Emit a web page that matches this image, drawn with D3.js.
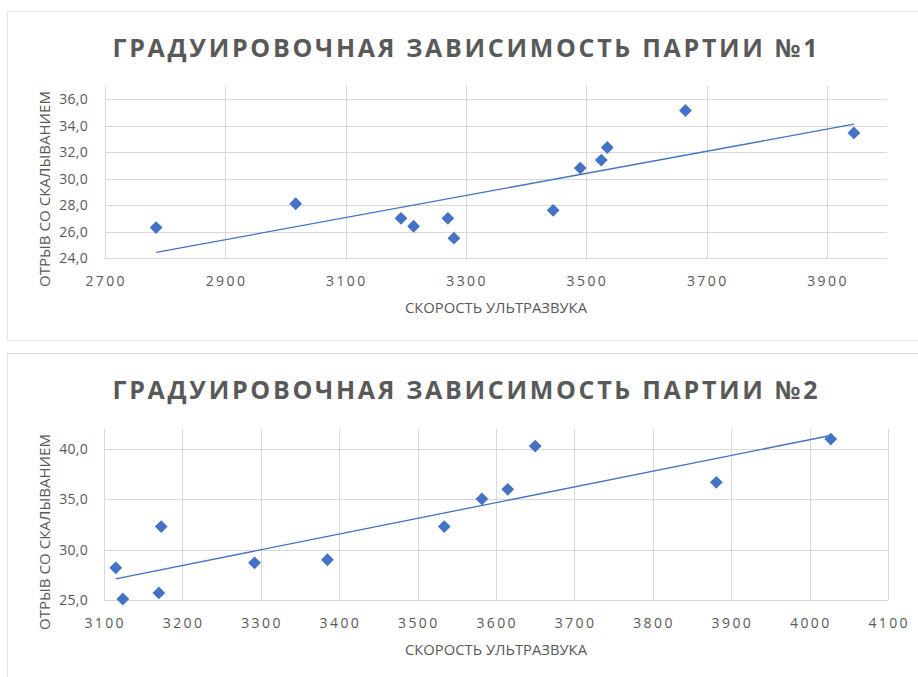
<!DOCTYPE html>
<html>
<head>
<meta charset="utf-8">
<script src="https://cdn.jsdelivr.net/npm/d3@7"></script>
<style>
  body { margin: 0; background: #fff; }
  text { font-family: "Open Sans", sans-serif; fill: #595959; }
</style>
</head>
<body>
<svg id="chart" width="918" height="677"></svg>
<script>
// партия 1
var speed1 = [2785, 3017, 3192, 3213, 3270, 3280, 3445, 3490, 3525, 3535, 3665, 3945];
var force1 = [26.3, 28.1, 27.0, 26.4, 27.0, 25.5, 27.6, 30.8, 31.4, 32.35, 35.15, 33.45];
var xTicks1 = [2700, 2900, 3100, 3300, 3500, 3700, 3900];
var yTicks1 = [24, 26, 28, 30, 32, 34, 36];

// партия 2
var speed2 = [3115, 3124, 3170, 3173, 3292, 3385, 3534, 3582, 3615, 3650, 3881, 4027];
var force2 = [28.2, 25.1, 25.7, 32.3, 28.7, 29.0, 32.3, 35.05, 36.0, 40.3, 36.7, 41.0];
var xTicks2 = [3100, 3200, 3300, 3400, 3500, 3600, 3700, 3800, 3900, 4000, 4100];
var yTicks2 = [25, 30, 35, 40];

var titles = ["ГРАДУИРОВОЧНАЯ ЗАВИСИМОСТЬ ПАРТИИ №1", "ГРАДУИРОВОЧНАЯ ЗАВИСИМОСТЬ ПАРТИИ №2"];
var xTitle = "СКОРОСТЬ УЛЬТРАЗВУКА";
var yTitle = "ОТРЫВ СО СКАЛЫВАНИЕМ";

var svg = d3.select("#chart");
var blue = "#4472c4";
var fmt = function(v){ return d3.format(".1f")(v).replace(".", ","); };

function fit(xs, ys){
    var mx = d3.mean(xs), my = d3.mean(ys), sxy = 0, sxx = 0;
    xs.forEach(function(x, i){
        sxy += (x - mx) * (ys[i] - my);
        sxx += (x - mx) * (x - mx);
    });
    var k = sxy / sxx;
    return function(x){ return my + k * (x - mx); };
}

function drawChart(c){
    var g = svg.append("g");
    // рамка
    g.append("rect")
        .attr("x", 7.5).attr("y", c.top + 0.5)
        .attr("width", 930).attr("height", c.h)
        .attr("fill", "none").attr("stroke", "#e3e3e3");

    var x = d3.scaleLinear().domain(c.xd).range([c.l, c.r]);
    var y = d3.scaleLinear().domain(c.yd).range([c.b, c.t]);

    g.append("text")
        .attr("x", 465).attr("y", c.top + 46)
        .attr("text-anchor", "middle")
        .attr("font-size", 25).attr("font-weight", "bold")
        .attr("textLength", 705).attr("lengthAdjust", "spacing")
        .text(c.title);

    // сетка
    g.append("g").selectAll("line").data(c.yt).join("line")
        .attr("x1", c.l).attr("x2", c.r)
        .attr("y1", function(d){ return Math.round(y(d)) + 0.5; })
        .attr("y2", function(d){ return Math.round(y(d)) + 0.5; })
        .attr("stroke", "#d9d9d9");
    g.append("g").selectAll("line").data(c.xt).join("line")
        .attr("y1", c.t).attr("y2", c.b)
        .attr("x1", function(d){ return Math.round(x(d)) + 0.5; })
        .attr("x2", function(d){ return Math.round(x(d)) + 0.5; })
        .attr("stroke", "#d9d9d9");

    // подписи осей
    g.append("g").selectAll("text").data(c.yt).join("text")
        .attr("x", 88).attr("y", function(d){ return y(d); })
        .attr("dy", "0.36em").attr("text-anchor", "end")
        .attr("font-size", 14).attr("letter-spacing", 0.3)
        .text(fmt);
    g.append("g").selectAll("text").data(c.xt).join("text")
        .attr("x", function(d){ return x(d) + 1.2; }).attr("y", c.b + 28)
        .attr("text-anchor", "middle")
        .attr("font-size", 14).attr("letter-spacing", 2.4)
        .text(function(d){ return d; });

    g.append("text")
        .attr("x", 496).attr("y", c.b + 55)
        .attr("text-anchor", "middle").attr("font-size", 14)
        .attr("textLength", 182).attr("lengthAdjust", "spacingAndGlyphs")
        .text(xTitle);
    g.append("text")
        .attr("transform", "translate(50," + c.ymid + ") rotate(-90)")
        .attr("text-anchor", "middle").attr("font-size", 14)
        .attr("textLength", 196).attr("lengthAdjust", "spacingAndGlyphs")
        .text(yTitle);

    // линия тренда
    var f = fit(c.xs, c.ys);
    var x0 = d3.min(c.xs), x1 = d3.max(c.xs);
    g.append("line")
        .attr("x1", x(x0)).attr("y1", y(f(x0)))
        .attr("x2", x(x1)).attr("y2", y(f(x1)))
        .attr("stroke", blue).attr("stroke-width", 1.3);

    // точки
    var sym = d3.symbol().type(d3.symbolSquare).size(82);
    g.append("g").selectAll("path").data(c.xs).join("path")
        .attr("d", sym)
        .attr("transform", function(d, i){
            return "translate(" + x(d) + "," + y(c.ys[i]) + ") rotate(45)";
        })
        .attr("fill", blue);
}

drawChart({
    top: 11, h: 329, title: titles[0],
    xs: speed1, ys: force1, xt: xTicks1, yt: yTicks1,
    xd: [2700, 4000], yd: [24, 37],
    l: 105, r: 887, t: 86, b: 258, ymid: 189
});
drawChart({
    top: 353, h: 340, title: titles[1],
    xs: speed2, ys: force2, xt: xTicks2, yt: yTicks2,
    xd: [3100, 4100], yd: [25, 42],
    l: 104, r: 888, t: 429, b: 600, ymid: 532
});
</script>
</body>
</html>
